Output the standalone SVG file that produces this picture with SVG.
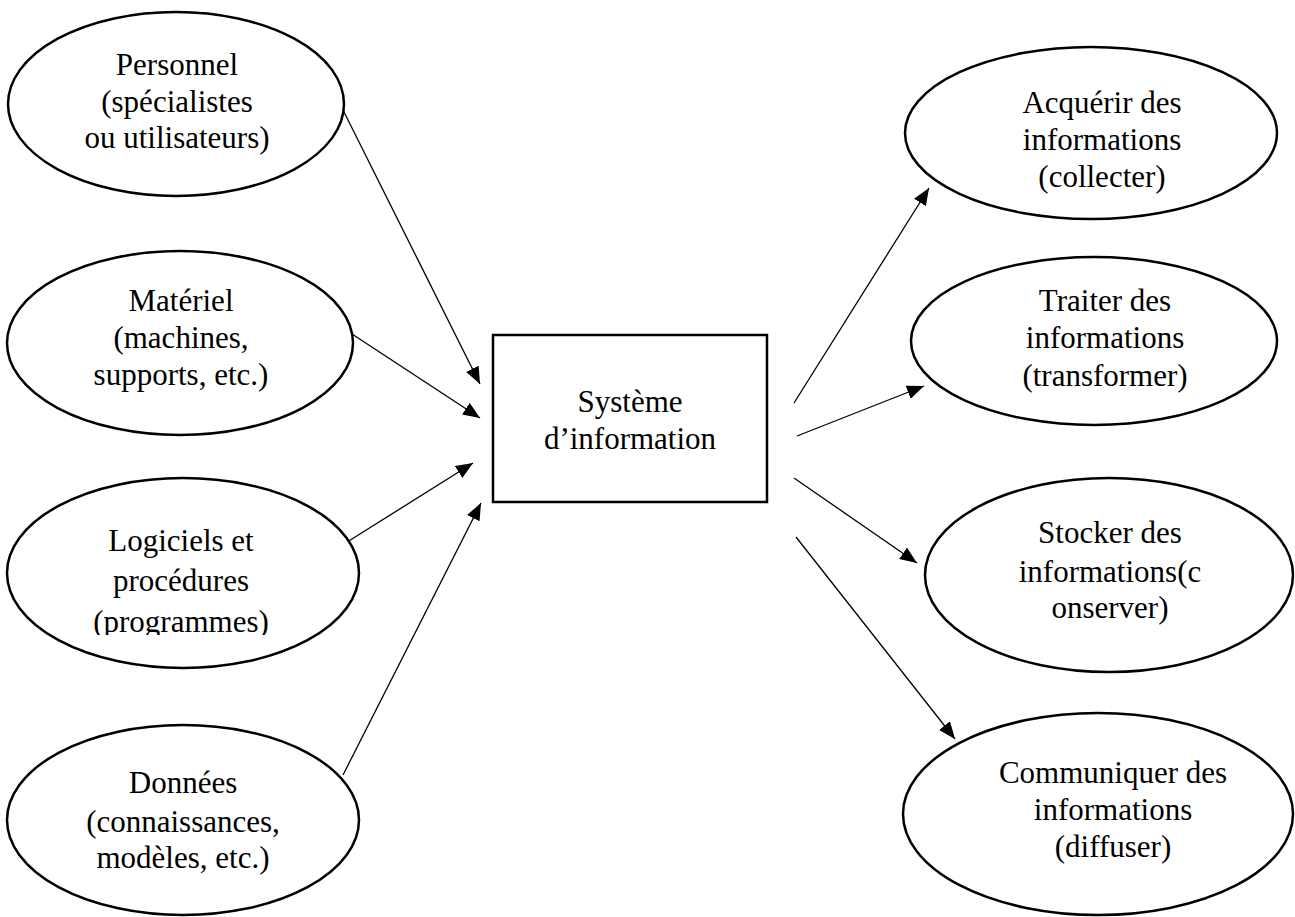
<svg xmlns="http://www.w3.org/2000/svg" width="1295" height="917" viewBox="0 0 1295 917">
<style>
.n{fill:#fff;stroke:#000;stroke-width:2.5}
.t{font-family:"Liberation Serif","Times New Roman",serif;font-size:31px;fill:#000;text-anchor:middle}
.c{stroke:#000;stroke-width:1.3;fill:none;marker-end:url(#ah)}
</style>
<defs>
<marker id="ah" markerUnits="userSpaceOnUse" markerWidth="18" markerHeight="14" refX="17" refY="7" orient="auto">
<path d="M0,0 L17,7 L0,14 Z" fill="#000"/>
</marker>
<clipPath id="clipL"><rect x="0" y="470" width="400" height="165"/></clipPath>
</defs>
<rect width="1295" height="917" fill="#fff"/>
<g id="connectors">
<line class="c" x1="343" y1="110" x2="480" y2="384"/>
<line class="c" x1="352" y1="334" x2="480" y2="418"/>
<line class="c" x1="344" y1="544" x2="473" y2="463"/>
<line class="c" x1="343" y1="775" x2="481" y2="503"/>
<line class="c" x1="794" y1="403" x2="929" y2="188"/>
<line class="c" x1="797" y1="436" x2="924" y2="386"/>
<line class="c" x1="794" y1="478" x2="917" y2="563"/>
<line class="c" x1="796" y1="537" x2="955" y2="739"/>
</g>
<g id="personnel">
<ellipse class="n" cx="176" cy="104" rx="168" ry="92"/>
<text class="t" x="177" y="75">Personnel</text>
<text class="t" x="177" y="112">(spécialistes</text>
<text class="t" x="177" y="148">ou utilisateurs)</text>
</g>
<g id="materiel">
<ellipse class="n" cx="180" cy="343" rx="173" ry="92"/>
<text class="t" x="181" y="311">Matériel</text>
<text class="t" x="181" y="348">(machines,</text>
<text class="t" x="181" y="385">supports, etc.)</text>
</g>
<g id="logiciels">
<ellipse class="n" cx="183" cy="573" rx="176" ry="95"/>
<g clip-path="url(#clipL)">
<text class="t" x="181" y="551">Logiciels et</text>
<text class="t" x="181" y="591">procédures</text>
<text class="t" x="181" y="632">(programmes)</text>
</g>
</g>
<g id="donnees">
<ellipse class="n" cx="183" cy="820" rx="176" ry="95"/>
<text class="t" x="183" y="793">Données</text>
<text class="t" x="183" y="832">(connaissances,</text>
<text class="t" x="183" y="868">modèles, etc.)</text>
</g>
<g id="systeme">
<rect class="n" x="493" y="335" width="274" height="167"/>
<text class="t" x="630" y="412">Système</text>
<text class="t" x="630" y="449">d’information</text>
</g>
<g id="acquerir">
<ellipse class="n" cx="1091" cy="133" rx="186" ry="86"/>
<text class="t" x="1102" y="113">Acquérir des</text>
<text class="t" x="1102" y="150">informations</text>
<text class="t" x="1102" y="187">(collecter)</text>
</g>
<g id="traiter">
<ellipse class="n" cx="1094" cy="341" rx="183" ry="84"/>
<text class="t" x="1105" y="311">Traiter des</text>
<text class="t" x="1105" y="348">informations</text>
<text class="t" x="1105" y="386">(transformer)</text>
</g>
<g id="stocker">
<ellipse class="n" cx="1109" cy="575" rx="184" ry="97"/>
<text class="t" x="1110" y="543">Stocker des</text>
<text class="t" x="1110" y="582">informations(c</text>
<text class="t" x="1110" y="618">onserver)</text>
</g>
<g id="communiquer">
<ellipse class="n" cx="1098" cy="814" rx="195" ry="101"/>
<text class="t" x="1113" y="783">Communiquer des</text>
<text class="t" x="1113" y="820">informations</text>
<text class="t" x="1113" y="857">(diffuser)</text>
</g>
</svg>
